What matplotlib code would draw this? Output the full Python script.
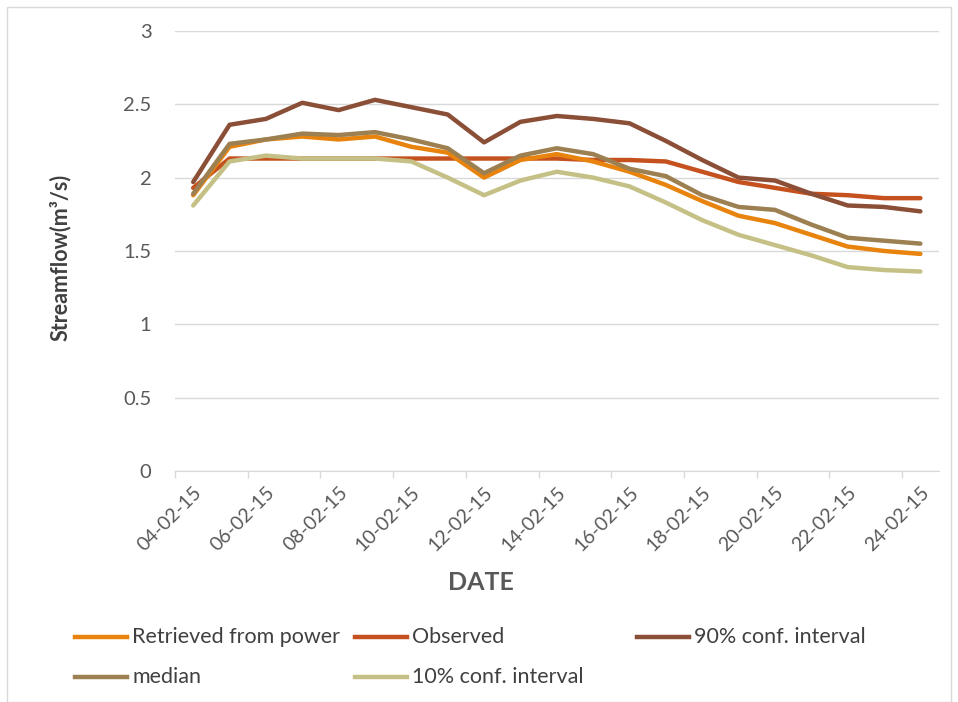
import matplotlib.pyplot as plt
from matplotlib.lines import Line2D
from matplotlib.patches import Rectangle

plt.rcParams['font.family'] = ['Lato', 'DejaVu Sans']

dates = ['04-02-15', '05-02-15', '06-02-15', '07-02-15', '08-02-15', '09-02-15', '10-02-15',
         '11-02-15', '12-02-15', '13-02-15', '14-02-15', '15-02-15', '16-02-15', '17-02-15',
         '18-02-15', '19-02-15', '20-02-15', '21-02-15', '22-02-15', '23-02-15', '24-02-15']

retrieved = [1.88, 2.21, 2.26, 2.28, 2.26, 2.28, 2.21, 2.17, 2.00, 2.12, 2.16,
             2.11, 2.04, 1.95, 1.84, 1.74, 1.69, 1.61, 1.53, 1.50, 1.48]
observed = [1.93, 2.13, 2.13, 2.13, 2.13, 2.13, 2.13, 2.13, 2.13, 2.13, 2.13,
            2.12, 2.12, 2.11, 2.04, 1.97, 1.93, 1.89, 1.88, 1.86, 1.86]
ci90 = [1.97, 2.36, 2.40, 2.51, 2.46, 2.53, 2.48, 2.43, 2.24, 2.38, 2.42,
        2.40, 2.37, 2.25, 2.12, 2.00, 1.98, 1.89, 1.81, 1.80, 1.77]
median = [1.89, 2.23, 2.26, 2.30, 2.29, 2.31, 2.26, 2.20, 2.03, 2.15, 2.20,
          2.16, 2.06, 2.01, 1.88, 1.80, 1.78, 1.68, 1.59, 1.57, 1.55]
ci10 = [1.81, 2.11, 2.15, 2.13, 2.13, 2.13, 2.11, 2.00, 1.88, 1.98, 2.04,
        2.00, 1.94, 1.83, 1.71, 1.61, 1.54, 1.47, 1.39, 1.37, 1.36]

labels = ['Retrieved from power', 'Observed', '90% conf. interval', 'median', '10% conf. interval']
series = [retrieved, observed, ci90, median, ci10]
colors = ['#E8840E', '#C5521E', '#8A4F36', '#9C8052', '#C5C186']

fig = plt.figure(figsize=(9.58, 7.02), dpi=100)
ax = fig.add_axes([0.1827, 0.329, 0.797, 0.627])

x = list(range(len(dates)))
# draw order: observed under the others like the excel chart
for i in [1, 0, 2, 3, 4]:
    ax.plot(x, series[i], color=colors[i], lw=3.2, solid_joinstyle='round', solid_capstyle='round')

ax.set_ylim(0, 3)
ax.set_xlim(-0.5, len(dates) - 0.5)
ax.set_yticks([0, 0.5, 1, 1.5, 2, 2.5, 3])
ax.set_yticklabels(['0', '0.5', '1', '1.5', '2', '2.5', '3'])
ax.grid(axis='y', color='#D9D9D9', lw=1)
ax.set_axisbelow(True)

ax.set_xticks([i - 0.5 for i in range(0, len(dates), 2)])
ax.set_xticks(x[::2], minor=True)
ax.set_xticklabels([])
ax.set_xticklabels(dates[::2], minor=True, rotation=45, ha='right', va='top',
                   rotation_mode='anchor', fontsize=14, color='#595959')
ax.tick_params(axis='x', which='major', length=5, color='#D9D9D9', width=1)
ax.tick_params(axis='x', which='minor', length=0, pad=9)
ax.tick_params(axis='y', length=0, labelsize=14.5, labelcolor='#595959', pad=17)

for s in ['top', 'right', 'left']:
    ax.spines[s].set_visible(False)
ax.spines['bottom'].set_color('#D9D9D9')

fig.text(60 / 958, 1 - 257 / 702, 'Streamflow(m³/s)', rotation=90, fontsize=15.5,
         fontweight='bold', color='#404040', ha='center', va='center')
fig.text(481 / 958, 1 - 583 / 702, 'DATE', fontsize=18, fontweight='bold', color='#595959',
         ha='center', va='center')

# legend placed like excel: three equal-width columns
col_x = [75, 355, 637]
row_y = [637, 677]
W, H = 958, 702
for k, (lab, col) in enumerate(zip(labels, colors)):
    r, c = divmod(k, 3)
    px, py = col_x[c], row_y[r]
    fig.add_artist(Line2D([px / W, (px + 52) / W], [1 - py / H, 1 - py / H],
                          color=col, lw=3.2, transform=fig.transFigure))
    fig.text((px + 57) / W, 1 - py / H, lab, fontsize=15.5, color='#404040', va='center', ha='left')

fig.add_artist(Rectangle((7 / W, 0.0), (W - 14) / W, 1 - 7 / H, fill=False,
                         edgecolor='#D9D9D9', lw=1, transform=fig.transFigure))

fig.savefig('out.png', dpi=100)
